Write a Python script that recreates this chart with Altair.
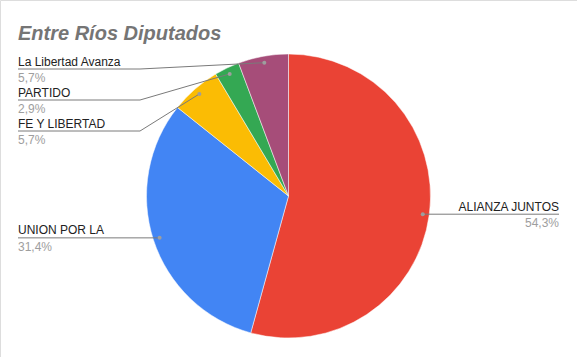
import math
import altair as alt
import pandas as pd

# ---- data ----
labels = ["ALIANZA JUNTOS", "UNION POR LA", "FE Y LIBERTAD", "PARTIDO", "La Libertad Avanza"]
seats = [19, 11, 2, 1, 2]
colors = ["#EA4335", "#4285F4", "#FBBC04", "#34A853", "#A64D79"]
title_text = "Entre Ríos Diputados"

# ---- layout constants ----
W, H = 577, 357
CX, CY, R = 288.5, 196.0, 142.0
DOT_R = R - 6.5
LEFT_X, LEFT_BEND = 18.0, 140.0
RIGHT_X, RIGHT_BEND = 559.0, 437.0
TOP_MIN = 69.0
GAP = 31.0
FONT = "Liberation Sans"

total = sum(seats)
rows = []
cum = 0.0
for i, (lab, v) in enumerate(zip(labels, seats)):
    mid = (cum + v / 2) / total * 2 * math.pi
    cum += v
    dx = CX + DOT_R * math.sin(mid)
    dy = CY - DOT_R * math.cos(mid)
    pct = f"{v / total * 100:.1f}".replace(".", ",") + "%"
    rows.append(dict(idx=i, label=lab, seats=v, pct=pct, dx=dx, dy=dy,
                     side="right" if math.sin(mid) > 0 else "left"))

# simple anti-overlap label placement per side
for side in ("left", "right"):
    items = sorted([r for r in rows if r["side"] == side], key=lambda r: r["dy"])
    prev = None
    for r in items:
        ly = max(r["dy"], TOP_MIN)
        if prev is not None:
            ly = max(ly, prev + GAP)
        r["ly"] = ly
        prev = ly

pie_df = pd.DataFrame(rows)

line_rows = []
for r in rows:
    if r["side"] == "left":
        pts = [(LEFT_X, r["ly"]), (LEFT_BEND, r["ly"]), (r["dx"], r["dy"])]
    else:
        pts = [(RIGHT_X, r["ly"]), (RIGHT_BEND, r["ly"]), (r["dx"], r["dy"])]
    for k, (x, y) in enumerate(pts):
        line_rows.append(dict(label=r["label"], k=k, x=x, y=y))
line_df = pd.DataFrame(line_rows)

text_rows = []
for r in rows:
    tx = LEFT_X if r["side"] == "left" else RIGHT_X
    text_rows.append(dict(label=r["label"], pct=r["pct"], side=r["side"], tx=tx,
                          ny=r["ly"] - 3.5, py=r["ly"] + 13))
text_df = pd.DataFrame(text_rows)

xs = alt.Scale(domain=[0, W], range=[0, W], nice=False, zero=False)
ys = alt.Scale(domain=[0, H], range=[0, H], nice=False, zero=False)

pie = alt.Chart(pie_df).mark_arc(outerRadius=R, stroke="white", strokeWidth=0.5).encode(
    theta=alt.Theta("seats:Q", stack=True),
    color=alt.Color("label:N", scale=alt.Scale(domain=labels, range=colors), legend=None),
    order=alt.Order("idx:Q"),
    x=alt.value(CX),
    y=alt.value(CY),
)

lines = alt.Chart(line_df).mark_line(color="#7a7a7a", strokeWidth=1).encode(
    x=alt.X("x:Q", scale=xs, axis=None),
    y=alt.Y("y:Q", scale=ys, axis=None),
    detail="label:N",
    order="k:Q",
)

dots = alt.Chart(pie_df).mark_circle(size=16, color="#9e9e9e", opacity=1).encode(
    x=alt.X("dx:Q", scale=xs, axis=None),
    y=alt.Y("dy:Q", scale=ys, axis=None),
)

def texts(side, align):
    base = alt.Chart(text_df).transform_filter(alt.datum.side == side)
    names = base.mark_text(align=align, baseline="alphabetic", font=FONT, fontSize=12,
                           color="#222222").encode(
        x=alt.X("tx:Q", scale=xs, axis=None),
        y=alt.Y("ny:Q", scale=ys, axis=None),
        text="label:N",
    )
    pcts = base.mark_text(align=align, baseline="alphabetic", font=FONT, fontSize=12,
                          color="#9e9e9e").encode(
        x=alt.X("tx:Q", scale=xs, axis=None),
        y=alt.Y("py:Q", scale=ys, axis=None),
        text="pct:N",
    )
    return names + pcts

chart = alt.layer(pie, lines, dots, texts("left", "left"), texts("right", "right")).properties(
    width=W,
    height=H,
    autosize=alt.AutoSizeParams(type="none"),
    padding=0,
    title=alt.Title(title_text, anchor="start", font=FONT, fontSize=20, fontStyle="italic",
                    fontWeight="bold", color="#757575", frame="group", offset=0,
                    baseline="alphabetic", dx=18, dy=60),
).configure_view(stroke=None).configure(background="white")

chart.save("out.html", embed_options={"renderer": "svg", "actions": False})
